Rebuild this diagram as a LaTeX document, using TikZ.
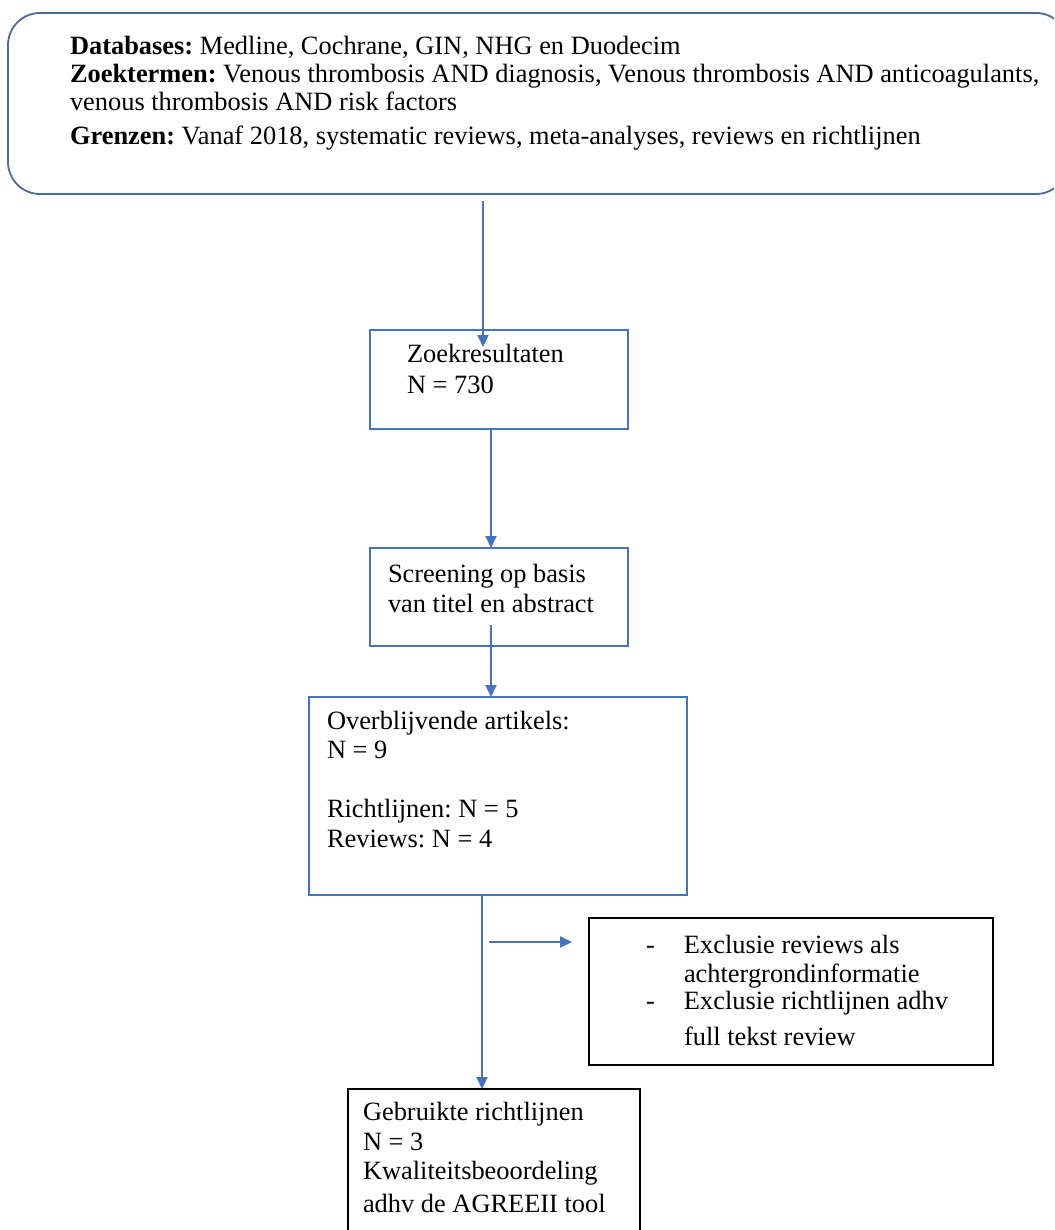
\documentclass[tikz,border=0pt]{standalone}
\usepackage{fontspec}
\setmainfont{Liberation Serif}
\frenchspacing
\usetikzlibrary{arrows.meta,fit}
\definecolor{frameblue}{HTML}{4A6C9B}
\definecolor{lineblue}{HTML}{4472C4}
\begin{document}
\begin{tikzpicture}[x=0.5pt,y=-0.5pt,
  every node/.style={inner sep=0pt, outer sep=0pt},
  % multi-line text nodes: the base anchor sits on the last line
  txt/.style={anchor=base west, align=left, font=\fontsize{13.2}{14.75}\selectfont},
  bluebox/.style={draw=lineblue, line width=0.8pt},
  blackbox/.style={draw=black, line width=1pt},
  flow/.style={draw=lineblue, line width=1pt, -{Triangle[length=6pt,width=5.5pt]}},
]
\clip (0,0) rectangle (1054,1230);
\fill[white] (0,0) rectangle (1054,1230);

% search strategy
\node[fit={(8,13)(1068,194)}, draw=frameblue, line width=0.9pt, rounded corners=16pt] (search) {};
\node[txt] (searchtxt) at (70,145) {\textbf{Databases:} Medline, Cochrane, GIN, NHG en Duodecim\\[-0.5pt]
\textbf{Zoektermen:} Venous thrombosis AND diagnosis, Venous thrombosis AND anticoagulants,\\[-1pt]
venous thrombosis AND risk factors\\[2.5pt]
\textbf{Grenzen:} Vanaf 2018, systematic reviews, meta-analyses, reviews en richtlijnen};

% search results
\node[bluebox, fit={(370,330)(628,429)}] (zoek) {};
\node[txt] (zoektxt) at (407,393) {Zoekresultaten\\[0.75pt] N = 730};

% screening
\node[bluebox, fit={(370,548)(628,646)}] (screen) {};
\node[txt] (screentxt) at (388,612) {Screening op basis\\ van titel en abstract};

% remaining articles
\node[bluebox, fit={(309,697)(687,895)}] (overb) {};
\node[txt] (overbtxt) at (327,847) {Overblijvende artikels:\\ N = 9\\ \mbox{}\\ Richtlijnen: N = 5\\ Reviews: N = 4};

% exclusions
\node[blackbox, fit={(589,918)(993,1065)}] (excl) {};
\node[txt] (excltxt) at (646,1045) {\makebox[19pt][l]{-}Exclusie reviews als\\[-0.5pt]
\hspace*{19pt}achtergrondinformatie\\[-1pt]
\makebox[19pt][l]{-}Exclusie richtlijnen adhv\\[3pt]
\hspace*{19pt}full tekst review};

% guidelines used
\node[blackbox, fit={(348,1089)(640,1262)}] (used) {};
\node[txt] (usedtxt) at (363,1212) {Gebruikte richtlijnen\\ N = 3\\ Kwaliteitsbeoordeling\\[1.5pt] adhv de AGREEII tool};

% connectors
\coordinate (a1) at (483,201);
\coordinate (b1) at (483,347);
\coordinate (a2) at (491,429);
\coordinate (a3) at (491,625);
\coordinate (a4) at (482,895);
\coordinate (s1) at (489,942);
\coordinate (s2) at (572,942);
\draw[flow] (a1) -- (b1);
\draw[flow] (a2) -- (a2 |- screen.north);
\draw[flow] (a3) -- (a3 |- overb.north);
\draw[flow] (a4) -- (a4 |- used.north);
\draw[flow] (s1) -- (s2);
\end{tikzpicture}
\end{document}
